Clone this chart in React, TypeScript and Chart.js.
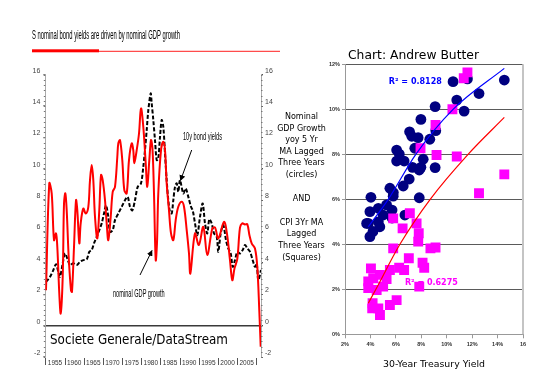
import React, { useEffect, useLayoutEffect, useRef } from 'react';
import { Chart, registerables } from 'chart.js';
Chart.register(...registerables);

// ---------- Left chart data ----------
const gdpYears = [1952.65,1953.51,1954.14,1954.74,1955.26,1955.6,1956.12,1956.49,1957.01,1957.35,1957.69,1958.05,1958.57,1959.17,1959.43,1959.96,1960.48,1960.82,1961.34,1961.7,1962.38,1963.01,1963.69,1964.13,1964.57,1964.99,1965.43,1966.03,1966.55,1967.0,1967.44,1968.04,1968.48,1968.9,1969.53,1970.05,1970.65,1971.25,1971.51,1971.95,1972.55,1973.08,1973.7,1974.3,1975.0,1975.42,1975.68,1976.31,1976.91,1977.43,1978.03,1978.66,1979.07,1979.6,1980.04,1980.43,1980.82,1981.27,1981.6,1981.94,1982.65,1983.25,1983.69,1984.13,1984.73,1985.26,1985.86,1986.48,1987.16,1988.05,1988.65,1989.35,1989.95,1990.3,1991.51,1992.52,1993.68,1994.72,1996.03,1996.73,1997.59,1999.08,1999.86,2000.64,2001.24,2001.82,2002.55,2003.25,2003.85,2004.55,2005.15,2005.73,2006.3,2007.16,2007.76,2008.28,2008.65];
const gdpValues = [2.26,9.07,8.43,5.45,5.88,5.03,2.05,0.78,3.11,7.79,8.43,7.35,4.39,2.25,2.15,5.03,8.0,7.35,5.25,6.52,7.47,7.15,7.58,9.28,10.24,9.28,6.94,5.56,7.35,9.6,9.28,8.0,6.52,5.45,6.94,8.53,8.85,10.75,11.62,11.83,10.55,8.64,8.43,10.55,11.62,11.19,10.35,11.19,12.25,13.85,12.68,10.35,8.85,10.55,11.83,11.25,8.43,4.18,5.25,8.43,11.19,11.72,11.19,9.07,7.35,5.88,5.45,6.73,7.58,7.9,7.58,6.09,4.6,3.33,5.88,5.14,6.3,4.5,6.2,6.25,5.56,6.62,5.85,4.18,2.9,3.65,4.25,6.25,6.52,6.45,6.47,5.75,5.25,4.92,3.75,0.99,-1.35];

const bondYears = [1952.65,1953.7,1954.56,1955.26,1955.86,1956.3,1957.01,1957.61,1958.21,1958.91,1959.77,1960.66,1961.52,1962.38,1963.27,1963.95,1964.57,1965.17,1965.88,1966.55,1967.18,1967.78,1968.3,1968.9,1969.35,1970.05,1970.65,1971.51,1972.4,1973.26,1973.96,1974.56,1975.16,1975.87,1976.57,1977.43,1978.03,1978.47,1978.92,1979.34,1979.96,1980.22,1980.64,1981.08,1981.53,1981.94,1982.39,1982.83,1983.25,1983.69,1984.13,1984.55,1984.99,1985.44,1985.86,1986.3,1986.74,1987.16,1987.6,1988.46,1989.09,1989.77,1990.47,1990.92,1991.52,1992.12,1992.82,1993.52,1994.12,1994.72,1995.25,1995.87,1996.47,1997.18,1997.59,1998.22,1998.9,1999.6,2000.2,2000.83,2001.35,2001.95,2002.55,2003.25,2003.96,2004.56,2005.16,2005.86,2006.56,2007.16,2007.6,2008.03,2008.73];
const bondValues = [2.79,3.11,3.54,3.92,3.43,3.11,3.97,4.6,4.28,3.86,3.97,3.86,4.07,4.18,4.22,4.71,4.82,5.25,5.66,6.09,6.52,7.15,7.68,6.94,5.98,6.09,6.73,7.15,7.58,8.0,8.21,7.58,7.35,8.0,8.85,9.07,10.13,11.19,12.47,13.74,14.81,14.17,13.11,11.83,10.55,10.66,12.04,13.11,12.68,10.98,9.28,8.0,7.25,7.15,8.0,8.85,9.07,8.53,9.28,8.43,8.75,8.21,7.58,7.35,6.52,5.77,6.94,7.79,6.52,5.88,6.78,6.52,5.88,5.66,4.71,5.88,6.41,5.45,4.92,4.6,3.75,4.18,4.71,4.6,4.82,5.14,4.92,4.71,4.18,3.75,3.97,2.9,3.55];

const leftYTicks = [-2, 0, 2, 4, 6, 8, 10, 12, 14, 16];
const xLabelYears = [1955, 1960, 1965, 1970, 1975, 1980, 1985, 1990, 1995, 2000, 2005];

// ---------- Right chart data ----------
const circleX = [10.5,11.63,14.53,12.54,10.79,11.37,9.09,7.97,7.08,7.75,7.25,9.14,8.67,6.06,6.27,7.49,6.06,6.65,8.15,7.31,7.97,7.84,9.09,7.05,6.58,5.53,4.04,7.84,5.8,5.79,3.96,4.62,5.27,6.71,3.83,4.62,5.0,3.96,4.2,3.7,4.74,5.7,5.7];
const circleY = [11.23,11.35,11.3,10.7,10.41,9.92,10.12,9.55,9.0,8.74,8.8,9.05,8.67,8.19,8.01,8.27,7.7,7.7,7.78,7.42,7.42,7.3,7.41,6.9,6.59,6.49,6.09,6.07,6.3,6.14,5.45,5.6,5.75,5.3,4.93,5.0,5.3,4.34,4.57,4.93,4.78,5.17,5.52];
const squareX = [11.63,11.34,10.45,9.12,7.94,9.2,10.79,14.53,12.54,5.79,7.1,6.53,7.63,7.8,7.76,5.79,8.72,9.12,7.02,8.1,8.23,6.26,6.65,5.53,4.04,4.75,4.22,5.27,3.83,5.0,4.49,3.83,7.84,4.17,4.62,4.75,5.53,6.06,4.14];
const squareY = [11.64,11.38,10.0,9.3,8.27,7.97,7.9,7.11,6.27,5.15,5.38,4.71,4.93,4.49,4.12,3.82,3.82,3.86,3.38,3.18,2.96,2.96,2.86,2.86,2.93,2.64,2.49,2.45,2.35,2.12,1.97,2.05,2.12,1.38,1.15,0.86,1.3,1.52,1.15];
const blueTrendX = [3.83, 5.4, 7.57, 10.5, 14.53];
const blueTrendY = [4.78, 6.0, 8.0, 10.0, 11.82];
const redTrendX = [3.83, 4.43, 6.32, 8.7, 11.68, 14.53];
const redTrendY = [1.38, 2.0, 4.0, 6.0, 8.0, 9.64];
const rightXTicks = [2, 4, 6, 8, 10, 12, 14, 16];
const rightYTicks = [0, 2, 4, 6, 8, 10, 12];
const r2Circles = 'R\u00B2 = 0.8128';
const r2Squares = 'R\u00B2 = 0.6275';

const yLabelLines = ['Nominal', 'GDP Growth', 'yoy 5 Yr', 'MA Lagged', 'Three Years', '(circles)', 'AND', 'CPI 3Yr MA', 'Lagged', 'Three Years', '(Squares)'];

// ---------- styling ----------
const NARROW = '"Liberation Sans Narrow", "Liberation Sans", Arial, sans-serif';
const COMIC = '"DejaVu Sans", sans-serif';
const ARIAL = '"Liberation Sans", Arial, sans-serif';

const pts = (xs: number[], ys: number[]) => xs.map((x, i) => ({ x, y: ys[i] }));

function fillFit(ctx: CanvasRenderingContext2D, text: string, x: number, y: number, w: number) {
  const m = ctx.measureText(text).width;
  ctx.save();
  ctx.translate(x, y);
  ctx.scale(w / m, 1);
  ctx.fillText(text, 0, 0);
  ctx.restore();
}

const leftDecor = {
  id: 'leftDecor',
  afterDraw(chart: any) {
    const { ctx, chartArea: a, scales } = chart;
    const y = scales.y;
    const x = scales.x;
    ctx.save();
    ctx.strokeStyle = '#777';
    ctx.lineWidth = 1;
    for (let k = 0; k <= 54; k++) {
      const v = -2 + k / 3;
      const py = Math.round(y.getPixelForValue(v)) + 0.5;
      ctx.beginPath();
      ctx.moveTo(a.left - 1.5, py);
      ctx.lineTo(a.left, py);
      ctx.moveTo(a.right, py);
      ctx.lineTo(a.right + 1.5, py);
      ctx.stroke();
    }
    ctx.strokeStyle = '#555';
    const seps = [xLabelYears[0] - 2.5, ...xLabelYears.map((v) => v + 2.5)];
    seps.forEach((v) => {
      const px = Math.round(x.getPixelForValue(v)) + 0.5;
      if (px < a.left - 1 || px > a.right + 1) return;
      ctx.beginPath();
      ctx.moveTo(px, a.bottom + 1);
      ctx.lineTo(px, a.bottom + 8);
      ctx.stroke();
    });
    ctx.restore();
  },
};

const rightDecor = {
  id: 'rightDecor',
  beforeDatasetsDraw(chart: any) {
    const { ctx, chartArea: a, scales } = chart;
    ctx.save();
    ctx.strokeStyle = '#c4c4c4';
    ctx.lineWidth = 2;
    ctx.beginPath();
    ctx.moveTo(a.right, a.top);
    ctx.lineTo(a.right, a.bottom);
    ctx.stroke();
    ctx.font = `bold 8px ${COMIC}`;
    ctx.textBaseline = 'middle';
    ctx.textAlign = 'left';
    ctx.fillStyle = '#0000ff';
    fillFit(ctx, r2Circles, scales.x.getPixelForValue(5.45), scales.y.getPixelForValue(11.2), 53);
    ctx.fillStyle = '#ff00ff';
    fillFit(ctx, r2Squares, scales.x.getPixelForValue(6.71), scales.y.getPixelForValue(2.28), 53);
    ctx.restore();
  },
};

function leftConfig(): any {
  return {
    type: 'line',
    data: {
      datasets: [
        {
          label: 'nominal GDP growth',
          data: pts(gdpYears, gdpValues),
          borderColor: '#ff0000',
          borderWidth: 2,
          pointRadius: 0,
          tension: 0.35,
          fill: false,
        },
        {
          label: '10y bond yields',
          data: pts(bondYears, bondValues),
          borderColor: '#000000',
          borderWidth: 2,
          borderDash: [4, 2],
          pointRadius: 0,
          tension: 0.3,
          fill: false,
        },
      ],
    },
    options: {
      animation: false,
      responsive: false,
      devicePixelRatio: 1,
      layout: { padding: { top: 14.7, right: 0, bottom: 0, left: 0 } },
      plugins: { legend: { display: false }, tooltip: { enabled: false }, title: { display: false } },
      scales: {
        x: {
          type: 'linear',
          min: 1952.47,
          max: 2008.73,
          afterFit: (s: any) => { s.height = 18; },
          afterBuildTicks: (s: any) => { s.ticks = xLabelYears.map((v) => ({ value: v })); },
          grid: { display: false, drawTicks: false },
          border: { display: false },
          ticks: {
            autoSkip: false,
            maxRotation: 0,
            padding: 2,
            color: '#333',
            font: { family: NARROW, size: 6.5 },
            callback: (v: any) => String(v),
          },
        },
        y: {
          position: 'left',
          min: -2,
          max: 16,
          afterFit: (s: any) => { s.width = 45.3; },
          afterBuildTicks: (s: any) => { s.ticks = leftYTicks.map((v) => ({ value: v })); },
          grid: {
            color: (c: any) => (c.tick && c.tick.value === 0 ? '#3a3a3a' : 'rgba(0,0,0,0)'),
            lineWidth: 1.5,
            drawTicks: true,
            tickLength: 2,
            tickColor: '#555',
            tickWidth: 1,
          },
          border: { display: true, color: '#aaa', width: 1 },
          ticks: { padding: 3, labelOffset: -4, color: '#444', font: { family: NARROW, size: 7 }, callback: (v: any) => String(v) },
        },
        y2: {
          position: 'right',
          min: -2,
          max: 16,
          afterFit: (s: any) => { s.width = 29; },
          afterBuildTicks: (s: any) => { s.ticks = leftYTicks.map((v) => ({ value: v })); },
          grid: { drawOnChartArea: false, drawTicks: true, tickLength: 2, tickColor: '#555', color: '#555' },
          border: { display: true, color: '#aaa', width: 1 },
          ticks: { padding: 2, labelOffset: -4, color: '#444', font: { family: NARROW, size: 7 }, callback: (v: any) => String(v) },
        },
      },
    },
    plugins: [leftDecor],
  };
}

function rightConfig(): any {
  return {
    type: 'scatter',
    data: {
      datasets: [
        {
          label: 'circles trend',
          data: pts(blueTrendX, blueTrendY),
          showLine: true,
          borderColor: '#0000ff',
          borderWidth: 1.2,
          pointRadius: 0,
          cubicInterpolationMode: 'monotone',
          order: 0,
        },
        {
          label: 'squares trend',
          data: pts(redTrendX, redTrendY),
          showLine: true,
          borderColor: '#ff0000',
          borderWidth: 1.2,
          pointRadius: 0,
          cubicInterpolationMode: 'monotone',
          order: 0,
        },
        {
          label: 'CPI 3Yr MA (squares)',
          data: pts(squareX, squareY),
          pointStyle: 'rect',
          pointRadius: 7,
          backgroundColor: '#ff00ff',
          borderColor: '#ff00ff',
          borderWidth: 0,
          order: 1,
        },
        {
          label: 'Nominal GDP growth (circles)',
          data: pts(circleX, circleY),
          pointStyle: 'circle',
          pointRadius: 5.4,
          backgroundColor: '#000080',
          borderColor: '#000080',
          borderWidth: 0,
          order: 2,
        },
      ],
    },
    options: {
      animation: false,
      responsive: false,
      devicePixelRatio: 1,
      layout: { padding: { top: 9.3, right: 6.7, bottom: 0, left: 0 } },
      plugins: { legend: { display: false }, tooltip: { enabled: false } },
      scales: {
        x: {
          type: 'linear',
          min: 2,
          max: 16,
          afterFit: (s: any) => { s.height = 20.7; },
          afterBuildTicks: (s: any) => { s.ticks = rightXTicks.map((v) => ({ value: v })); },
          grid: { drawOnChartArea: false, drawTicks: true, tickLength: 4, color: '#999' },
          border: { display: true, color: '#999', width: 1 },
          ticks: {
            autoSkip: false,
            maxRotation: 0,
            padding: 3,
            color: '#333',
            font: { family: ARIAL, size: 5.5, weight: 'bold' },
            callback: (v: any) => (v === 16 ? '16' : `${v}%`),
          },
        },
        y: {
          type: 'linear',
          min: 0,
          max: 12,
          afterFit: (s: any) => { s.width = 55; },
          afterBuildTicks: (s: any) => { s.ticks = rightYTicks.map((v) => ({ value: v })); },
          grid: { color: '#5a5a5a', lineWidth: 1, drawTicks: true, tickLength: 3, tickColor: '#999' },
          border: { display: true, color: '#999', width: 1 },
          ticks: {
            padding: 2,
            color: '#333',
            font: { family: ARIAL, size: 5.5, weight: 'bold' },
            callback: (v: any) => `${v}%`,
          },
        },
      },
    },
    plugins: [rightDecor],
  };
}

type FitProps = {
  text: string;
  left: number;
  baseline: number;
  width: number;
  size: number;
  family: string;
  color?: string;
  weight?: string;
};

function Fit({ text, left, baseline, width, size, family, color = '#000', weight = 'normal' }: FitProps) {
  const ref = useRef<HTMLSpanElement>(null);
  useLayoutEffect(() => {
    const el = ref.current;
    if (!el) return;
    el.style.transform = 'none';
    const w = el.getBoundingClientRect().width;
    if (w > 0) el.style.transform = `scaleX(${width / w})`;
  }, [text, width]);
  return (
    <span
      ref={ref}
      style={{
        position: 'absolute',
        left,
        top: baseline - 0.946 * size,
        fontSize: size,
        lineHeight: `${size * 1.2}px`,
        fontFamily: family,
        fontWeight: weight as any,
        color,
        whiteSpace: 'nowrap',
        transformOrigin: 'left center',
      }}
    >
      {text}
    </span>
  );
}

const lineCenters = [117.3, 129.3, 140.7, 152.3, 164, 176, 199.3, 223.3, 235, 246.7, 259];

export default function App() {
  const leftRef = useRef<HTMLCanvasElement>(null);
  const rightRef = useRef<HTMLCanvasElement>(null);

  useEffect(() => {
    const c1 = new Chart(leftRef.current as HTMLCanvasElement, leftConfig());
    const c2 = new Chart(rightRef.current as HTMLCanvasElement, rightConfig());
    return () => {
      c1.destroy();
      c2.destroy();
    };
  }, []);

  return (
    <div style={{ position: 'fixed', left: 0, top: 0, width: 549, height: 390, background: '#fff', overflow: 'hidden' }}>
      <canvas ref={leftRef} width={290} height={315} style={{ position: 'absolute', left: 0, top: 60, width: 290, height: 315 }} />
      <canvas ref={rightRef} width={240} height={300} style={{ position: 'absolute', left: 290, top: 55, width: 240, height: 300 }} />
      <svg width={549} height={390} style={{ position: 'absolute', left: 0, top: 0 }}>
        <defs>
          <marker id="ah" viewBox="0 0 10 10" refX="9" refY="5" markerWidth="6" markerHeight="6" markerUnits="userSpaceOnUse" orient="auto">
            <path d="M0,0 L10,5 L0,10 z" fill="#000" />
          </marker>
        </defs>
        <rect x={32} y={49.3} width={67} height={3} fill="#ff0000" />
        <line x1={99} y1={51.3} x2={280} y2={51.3} stroke="#ff2020" strokeWidth={1} />
        <line x1={191.7} y1={150} x2={180.5} y2={180.5} stroke="#000" strokeWidth={1} markerEnd="url(#ah)" />
        <line x1={140} y1={275} x2={152} y2={250.5} stroke="#000" strokeWidth={1} markerEnd="url(#ah)" />
      </svg>
      <Fit text="S nominal bond yields are driven by nominal GDP growth" left={32} baseline={40} width={148} size={12.5} family={NARROW} />
      <Fit text="10y bond yields" left={182.7} baseline={141} width={39} size={11.5} family={NARROW} />
      <Fit text="nominal GDP growth" left={113.3} baseline={297.7} width={51.7} size={11.5} family={NARROW} />
      <Fit text="Societe Generale/DataStream" left={50} baseline={343.5} width={178} size={13.5} family={COMIC} />
      <Fit text="Chart: Andrew Butter" left={348.3} baseline={59.3} width={131} size={12.5} family={COMIC} />
      <Fit text="30-Year Treasury Yield" left={383.3} baseline={366.7} width={102} size={9.2} family={COMIC} />
      {yLabelLines.map((t, i) => (
        <div
          key={i}
          style={{
            position: 'absolute',
            left: 301.5 - 40,
            width: 80,
            top: lineCenters[i] - 5.6,
            textAlign: 'center',
            fontFamily: COMIC,
            fontSize: 8,
            lineHeight: '9.6px',
            color: '#000',
            whiteSpace: 'nowrap',
          }}
        >
          {t}
        </div>
      ))}
    </div>
  );
}
